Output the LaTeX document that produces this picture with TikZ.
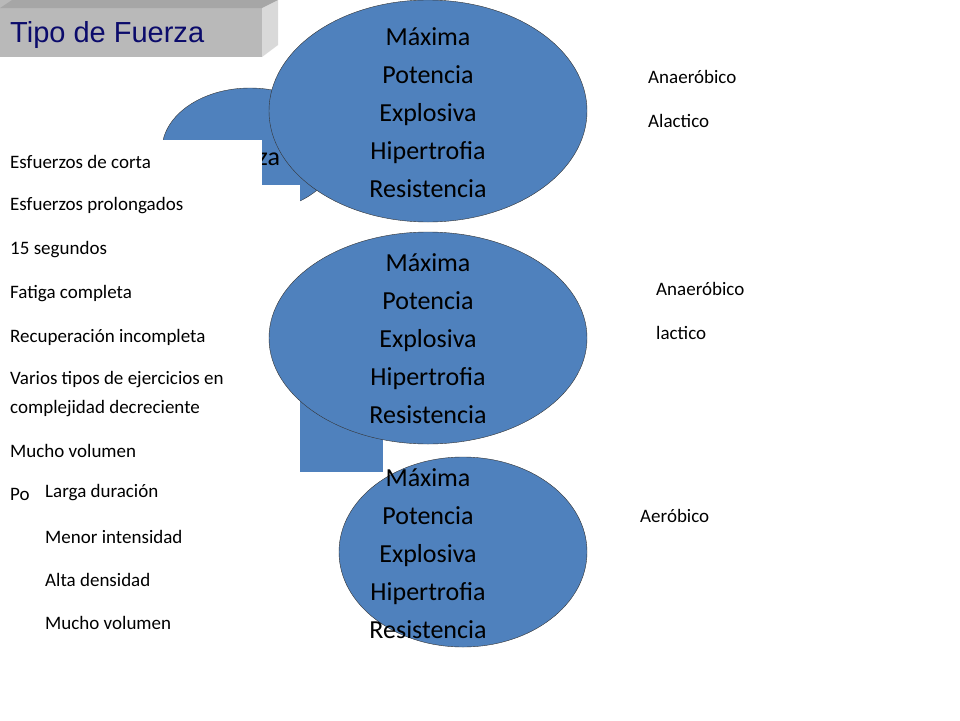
\documentclass[tikz,border=0pt]{standalone}
\usepackage{fontspec}
\setmainfont{Carlito}
\newfontfamily\titlefont{Liberation Sans}
\usetikzlibrary{shapes.geometric,positioning}
\definecolor{slideblue}{HTML}{4F81BD}
\definecolor{titlenavy}{HTML}{0B0B6B}
\tikzset{
  blob/.style={ellipse,fill=slideblue,draw=black!80,inner sep=0pt},
  bigtxt/.style={align=center,font=\fontsize{26}{38}\selectfont},
  item/.style={anchor=west,inner sep=0pt,font=\fontsize{19}{28}\selectfont},
  cover/.style={fill=white,draw=none}
}
\begin{document}
\begin{tikzpicture}[x=1pt,y=-1pt]
\useasboundingbox (0,0) rectangle (960,720);

% title box
\fill[gray!55] (0,0) rectangle (262,57);
\fill[gray!30] (262,57) -- (262,8) -- (278,0) -- (278,45) -- cycle;
\fill[gray!70] (0,8) -- (262,8) -- (278,0) -- (12,0) -- cycle;
\node[anchor=west,inner sep=0pt,text=titlenavy,font=\titlefont\fontsize{29}{32}\selectfont] (title) at (10,35) {Tipo de Fuerza};

% ellipse behind
\node[blob,minimum width=176pt,minimum height=124pt] (back) at (250,150) {};
\node[inner sep=0pt,font=\fontsize{26}{30}\selectfont] (backtxt) at (245,157) {Fuerza};
\fill[slideblue] (300,330) rectangle (383,472);

% left text boxes
\fill[cover] (0,140) rectangle (262,185);
\node[item] (t1) at (10,162) {Esfuerzos de corta};
\fill[cover] (0,185) rectangle (300,472);
\fill[cover] (0,472) rectangle (35,510);
\node[item] (t2) at (10,206) {Esfuerzos prolongados};
\node[item] (t3) at (10,250) {15 segundos};
\node[item] (t4) at (10,294) {Fatiga completa};
\node[item] (t5) at (10,337) {Recuperación incompleta};
\node[item] (t6) at (10,380) {Varios tipos de ejercicios en};
\node[item] (t7) at (10,409) {complejidad decreciente};
\node[item] (t8) at (10,451) {Mucho volumen};
\node[item] (t9) at (10,494) {Po};
\node[item] (u1) at (45,493) {Larga duración};
\node[item] (u2) at (45,537) {Menor intensidad};
\node[item] (u3) at (45,580) {Alta densidad};
\node[item] (u4) at (45,623) {Mucho volumen};

% front ellipses
\node[blob,minimum width=248pt,minimum height=190pt] (e3) at (463,552) {};
\node[bigtxt] (e3txt) at (428,554) {Máxima\\Potencia\\Explosiva\\Hipertrofia\\Resistencia};
\node[blob,minimum width=318pt,minimum height=222pt] (e1) at (428,111) {};
\node[bigtxt] (e1txt) at (428,113) {Máxima\\Potencia\\Explosiva\\Hipertrofia\\Resistencia};
\node[blob,minimum width=318pt,minimum height=212pt] (e2) at (428,338) {};
\node[bigtxt] (e2txt) at (428,339) {Máxima\\Potencia\\Explosiva\\Hipertrofia\\Resistencia};

% right labels
\node[item] (r1) at (648,77) {Anaeróbico};
\node[item] (r2) at (648,121) {Alactico};
\node[item] (r3) at (656,289) {Anaeróbico};
\node[item] (r4) at (656,333) {lactico};
\node[item] (r5) at (640,516) {Aeróbico};
\end{tikzpicture}
\end{document}
